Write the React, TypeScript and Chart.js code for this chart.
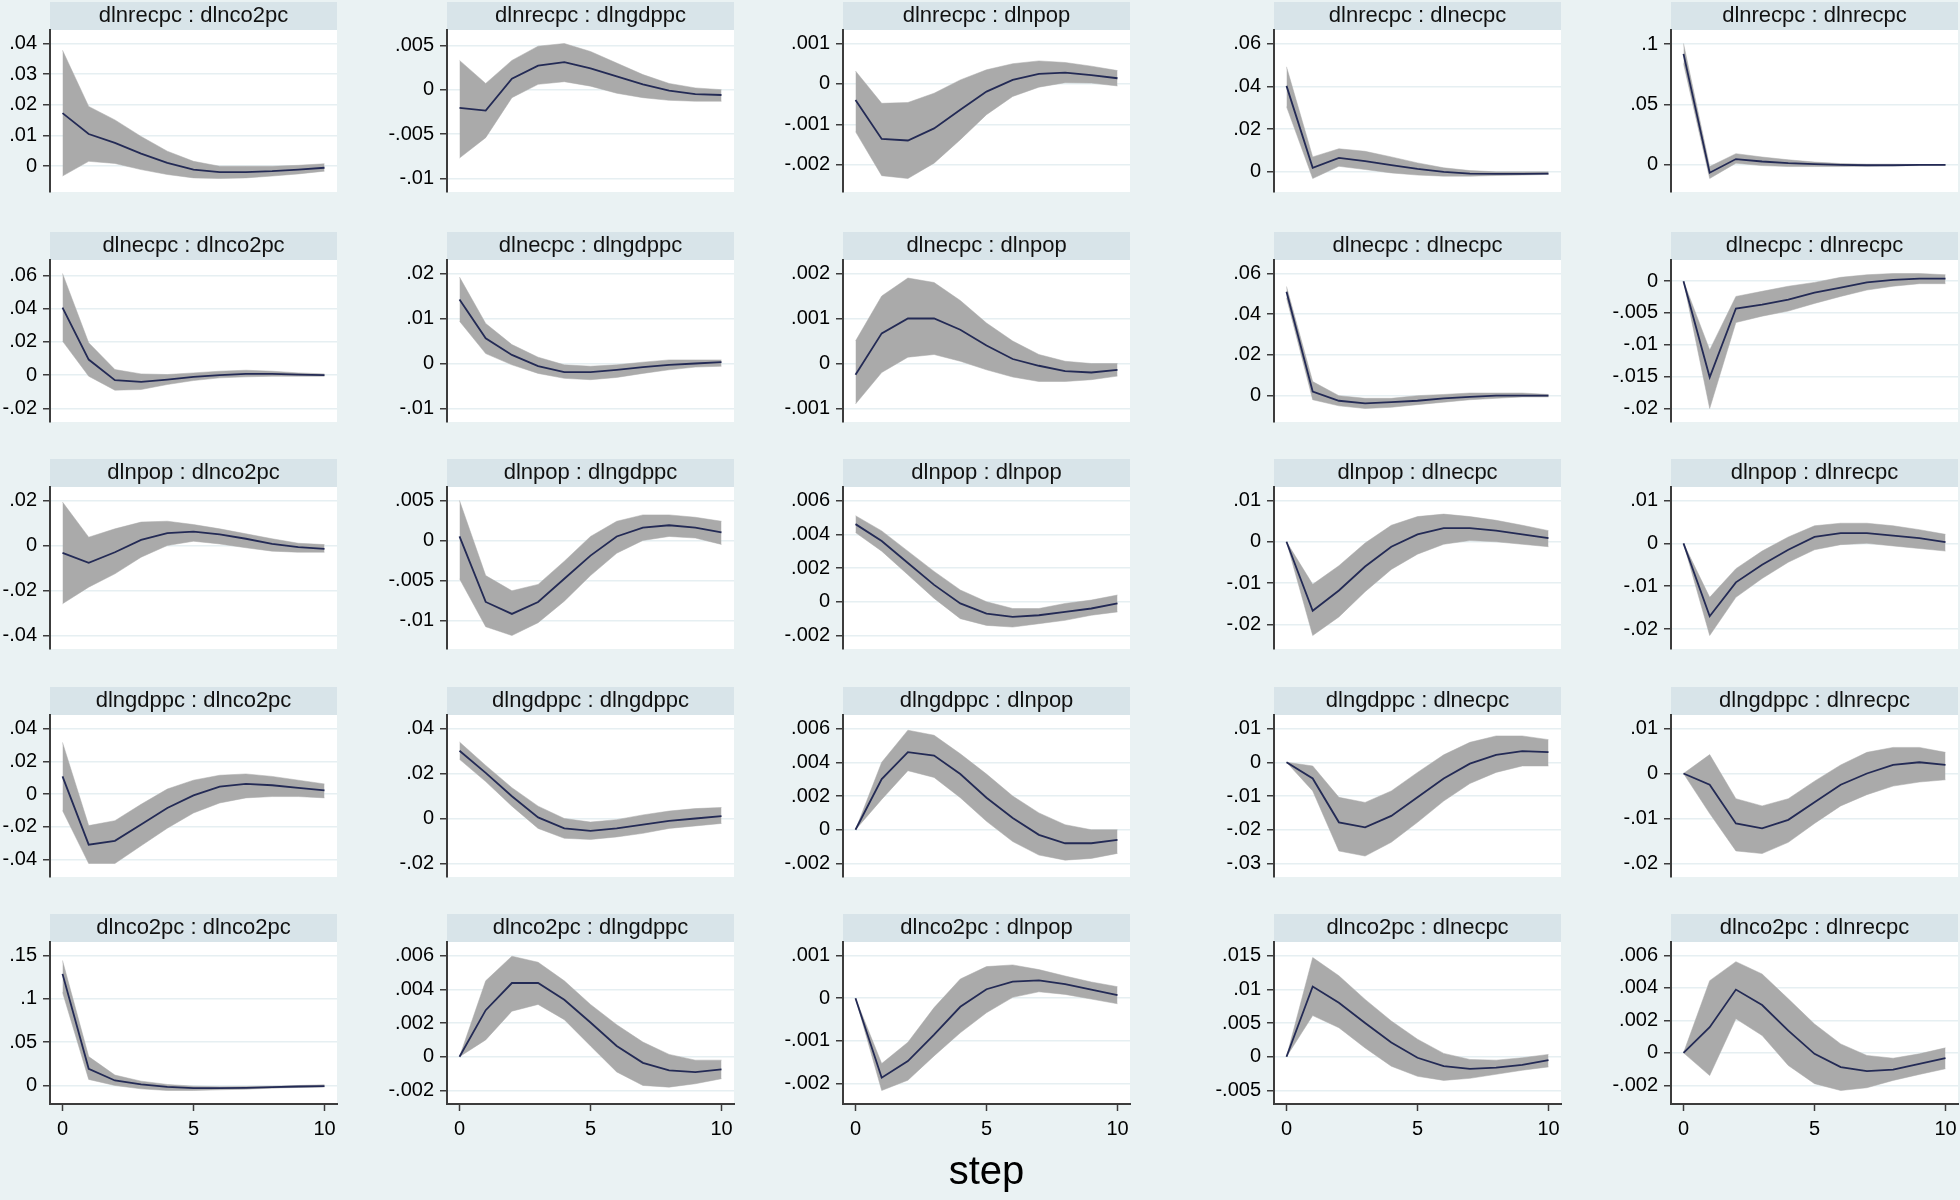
import React, { useEffect, useRef } from "react";
import { Chart, registerables } from "chart.js";

Chart.register(...registerables);

// ---------------- data ----------------
const steps = [0, 1, 2, 3, 4, 5, 6, 7, 8, 9, 10];
const xTickValues = [0, 5, 10];
const xAxisTitle = "step";
const impulses = ["dlnrecpc", "dlnecpc", "dlnpop", "dlngdppc", "dlnco2pc"];
const responses = ["dlnco2pc", "dlngdppc", "dlnpop", "dlnecpc", "dlnrecpc"];

// row 1: impulse dlnrecpc
const rec_co2_irf = [0.0173, 0.0105, 0.0076, 0.0041, 0.0011, -0.0011, -0.0019, -0.0019, -0.0016, -0.0011, -0.0005];
const rec_co2_hi = [0.0378, 0.0195, 0.0151, 0.0097, 0.0049, 0.0016, 0, 0, 0, 0.0003, 0.0008];
const rec_co2_lo = [-0.0032, 0.0016, 0.0009, -0.0011, -0.0027, -0.0038, -0.004, -0.0038, -0.0032, -0.0025, -0.0016];
const rec_co2_ticks = [".04", ".03", ".02", ".01", "0"];

const rec_gdp_irf = [-0.00205, -0.00235, 0.00123, 0.0027, 0.0031, 0.0024, 0.0015, 0.0006, -0.0001, -0.0005, -0.0006];
const rec_gdp_hi = [0.0033, 0.0007, 0.0033, 0.0049, 0.0052, 0.0043, 0.003, 0.0017, 0.0007, 0.0002, 0];
const rec_gdp_lo = [-0.0077, -0.0054, -0.0009, 0.0006, 0.0009, 0.0004, -0.0004, -0.0009, -0.0012, -0.0013, -0.0013];
const rec_gdp_ticks = [".005", "0", "-.005", "-.01"];

const rec_pop_irf = [-0.0004, -0.00136, -0.0014, -0.0011, -0.00064, -0.00019, 0.0001, 0.00025, 0.00028, 0.00022, 0.00014];
const rec_pop_hi = [0.00032, -0.00048, -0.00046, -0.00023, 0.0001, 0.00035, 0.0005, 0.00057, 0.00053, 0.00044, 0.00033];
const rec_pop_lo = [-0.00118, -0.00227, -0.00234, -0.00196, -0.00138, -0.00076, -0.00031, -0.00008, 0.00003, 0.00002, -0.00005];
const rec_pop_ticks = [".001", "0", "-.001", "-.002"];

const rec_ec_irf = [0.0402, 0.0019, 0.0065, 0.005, 0.0031, 0.0014, 0, -0.0008, -0.0009, -0.0009, -0.0008];
const rec_ec_hi = [0.0491, 0.007, 0.0108, 0.0096, 0.007, 0.0042, 0.0019, 0.0006, 0, 0, 0];
const rec_ec_lo = [0.0305, -0.0031, 0.0026, 0.0011, -0.0005, -0.0015, -0.002, -0.002, -0.0017, -0.0015, -0.0012];
const rec_ec_ticks = [".06", ".04", ".02", "0"];

const rec_rec_irf = [0.092, -0.0065, 0.0048, 0.0028, 0.0014, 0.0006, 0, -0.0003, -0.0003, 0, 0];
const rec_rec_hi = [0.1006, -0.0014, 0.0093, 0.0065, 0.0042, 0.0023, 0.0011, 0.0006, 0.0006, 0.0003, 0.0003];
const rec_rec_lo = [0.084, -0.0113, 0.0014, -0.0006, -0.0014, -0.0014, -0.0014, -0.0011, -0.0008, -0.0006, -0.0003];
const rec_rec_ticks = [".1", ".05", "0"];

// row 2: impulse dlnecpc
const ec_co2_irf = [0.0406, 0.0094, -0.003, -0.004, -0.0026, -0.001, 0, 0.0008, 0.0008, 0.0004, 0];
const ec_co2_hi = [0.0611, 0.0195, 0.0034, 0.0008, 0.0004, 0.0014, 0.0024, 0.003, 0.0024, 0.0014, 0.0008];
const ec_co2_lo = [0.0205, -0.0006, -0.009, -0.0086, -0.0056, -0.0032, -0.0016, -0.001, -0.0006, -0.0006, -0.0006];
const ec_co2_ticks = [".06", ".04", ".02", "0", "-.02"];

const ec_gdp_irf = [0.0142, 0.0056, 0.0019, -0.0006, -0.0019, -0.0019, -0.0014, -0.0008, -0.0003, 0, 0.0003];
const ec_gdp_hi = [0.0192, 0.0089, 0.0042, 0.0014, -0.0003, -0.0006, -0.0003, 0.0003, 0.0008, 0.0008, 0.0008];
const ec_gdp_lo = [0.0094, 0.0022, -0.0003, -0.0022, -0.0033, -0.0036, -0.0031, -0.0022, -0.0014, -0.0008, -0.0006];
const ec_gdp_ticks = [".02", ".01", "0", "-.01"];

const ec_pop_irf = [-0.00025, 0.00067, 0.001, 0.001, 0.00075, 0.0004, 0.0001, -0.00005, -0.00017, -0.0002, -0.00014];
const ec_pop_hi = [0.0005, 0.0015, 0.0019, 0.0018, 0.0014, 0.0009, 0.0005, 0.0002, 0.00005, 0, 0];
const ec_pop_lo = [-0.0009, -0.0002, 0.00014, 0.0002, 0.00005, -0.00014, -0.0003, -0.0004, -0.0004, -0.00036, -0.00028];
const ec_pop_ticks = [".002", ".001", "0", "-.001"];

const ec_ec_irf = [0.051, 0.002, -0.0025, -0.0038, -0.0032, -0.0025, -0.0013, -0.0006, 0, 0, 0];
const ec_ec_hi = [0.0536, 0.0069, 0, -0.0013, -0.0013, 0, 0.0006, 0.0013, 0.0013, 0.0013, 0.0006];
const ec_ec_lo = [0.048, -0.002, -0.005, -0.0063, -0.0057, -0.0044, -0.0032, -0.002, -0.0013, -0.0006, -0.0006];
const ec_ec_ticks = [".06", ".04", ".02", "0"];

const ec_rec_irf = [0, -0.0151, -0.0043, -0.0037, -0.0029, -0.0018, -0.001, -0.0002, 0.0002, 0.0004, 0.0004];
const ec_rec_hi = [0, -0.0108, -0.0024, -0.0016, -0.0008, -0.0002, 0.0006, 0.001, 0.0012, 0.0012, 0.001];
const ec_rec_lo = [0, -0.02, -0.0065, -0.0055, -0.0047, -0.0035, -0.0024, -0.0014, -0.0008, -0.0004, -0.0004];
const ec_rec_ticks = ["0", "-.005", "-.01", "-.015", "-.02"];

// row 3: impulse dlnpop
const pop_co2_irf = [-0.0033, -0.0077, -0.003, 0.0025, 0.0055, 0.0062, 0.0049, 0.003, 0.0007, -0.0007, -0.0015];
const pop_co2_hi = [0.0193, 0.0037, 0.0074, 0.0104, 0.0108, 0.0093, 0.0074, 0.0052, 0.003, 0.001, 0.0004];
const pop_co2_lo = [-0.0259, -0.0185, -0.0126, -0.0052, 0, 0.0019, 0.0007, -0.001, -0.0025, -0.003, -0.003];
const pop_co2_ticks = [".02", "0", "-.02", "-.04"];

const pop_gdp_irf = [0.0005, -0.0077, -0.0092, -0.0077, -0.0048, -0.0019, 0.0005, 0.0016, 0.0019, 0.0016, 0.001];
const pop_gdp_hi = [0.005, -0.0044, -0.0063, -0.0055, -0.0026, 0.0005, 0.0024, 0.0032, 0.0032, 0.0029, 0.0024];
const pop_gdp_lo = [-0.0048, -0.0108, -0.0119, -0.0103, -0.0076, -0.0044, -0.0016, 0, 0.0005, 0.0003, -0.0005];
const pop_gdp_ticks = [".005", "0", "-.005", "-.01"];

const pop_pop_irf = [0.0046, 0.0036, 0.0023, 0.001, -0.0001, -0.0007, -0.0009, -0.0008, -0.0006, -0.0004, -0.0001];
const pop_pop_hi = [0.0051, 0.0042, 0.003, 0.0018, 0.0007, 0, -0.0004, -0.0004, -0.0001, 0.0001, 0.0004];
const pop_pop_lo = [0.0041, 0.003, 0.0016, 0.0002, -0.001, -0.0014, -0.0015, -0.0013, -0.0011, -0.0008, -0.0006];
const pop_pop_ticks = [".006", ".004", ".002", "0", "-.002"];

const pop_ec_irf = [0, -0.0167, -0.0118, -0.006, -0.0012, 0.0018, 0.0033, 0.0033, 0.0027, 0.0018, 0.0009];
const pop_ec_hi = [0, -0.0103, -0.0058, -0.0003, 0.004, 0.0061, 0.0067, 0.0061, 0.0052, 0.004, 0.0027];
const pop_ec_lo = [0, -0.0227, -0.0182, -0.0121, -0.0067, -0.003, -0.0006, 0.0003, 0, -0.0006, -0.0012];
const pop_ec_ticks = [".01", "0", "-.01", "-.02"];

const pop_rec_irf = [0, -0.017, -0.0091, -0.005, -0.0015, 0.0015, 0.0024, 0.0024, 0.0018, 0.0012, 0.0003];
const pop_rec_hi = [0, -0.0126, -0.0059, -0.0018, 0.0015, 0.0041, 0.0047, 0.0047, 0.0041, 0.0032, 0.0021];
const pop_rec_lo = [0, -0.0215, -0.0126, -0.0082, -0.0044, -0.0015, -0.0003, 0, -0.0006, -0.0012, -0.0018];
const pop_rec_ticks = [".01", "0", "-.01", "-.02"];

// row 4: impulse dlngdppc
const gdp_co2_irf = [0.0108, -0.0308, -0.0285, -0.0185, -0.0085, -0.0008, 0.0046, 0.0062, 0.0054, 0.0038, 0.0023];
const gdp_co2_hi = [0.0315, -0.0192, -0.0162, -0.0062, 0.0031, 0.0085, 0.0115, 0.0123, 0.0108, 0.0085, 0.0062];
const gdp_co2_lo = [-0.01, -0.0423, -0.0423, -0.0315, -0.0208, -0.0115, -0.0054, -0.0023, -0.0015, -0.0015, -0.0023];
const gdp_co2_ticks = [".04", ".02", "0", "-.02", "-.04"];

const gdp_gdp_irf = [0.0301, 0.0203, 0.0099, 0.0005, -0.0044, -0.0055, -0.0044, -0.0027, -0.0011, 0, 0.0011];
const gdp_gdp_hi = [0.034, 0.0236, 0.0137, 0.0055, 0, -0.0016, -0.0005, 0.0016, 0.0033, 0.0044, 0.0049];
const gdp_gdp_lo = [0.0263, 0.0164, 0.0055, -0.0044, -0.0088, -0.0093, -0.0082, -0.0066, -0.0044, -0.0033, -0.0022];
const gdp_gdp_ticks = [".04", ".02", "0", "-.02"];

const gdp_pop_irf = [0, 0.003, 0.0046, 0.0044, 0.0033, 0.0019, 0.0007, -0.0003, -0.0008, -0.0008, -0.0006];
const gdp_pop_hi = [0, 0.004, 0.0059, 0.0056, 0.0045, 0.0033, 0.002, 0.001, 0.0003, 0, 0];
const gdp_pop_lo = [0, 0.0018, 0.0035, 0.0031, 0.0019, 0.0005, -0.0007, -0.0015, -0.0018, -0.0017, -0.0014];
const gdp_pop_ticks = [".006", ".004", ".002", "0", "-.002"];

const gdp_ec_irf = [0, -0.0048, -0.0178, -0.0193, -0.0159, -0.0104, -0.0048, -0.0004, 0.0022, 0.0033, 0.003];
const gdp_ec_hi = [0, -0.0011, -0.0104, -0.0119, -0.0085, -0.003, 0.0022, 0.0059, 0.0078, 0.0078, 0.0067];
const gdp_ec_lo = [0, -0.0085, -0.0263, -0.0278, -0.0237, -0.0178, -0.0115, -0.0063, -0.003, -0.0011, -0.0011];
const gdp_ec_ticks = [".01", "0", "-.01", "-.02", "-.03"];

const gdp_rec_irf = [0, -0.0025, -0.0111, -0.0122, -0.0103, -0.0064, -0.0025, 0, 0.0019, 0.0025, 0.0019];
const gdp_rec_hi = [0, 0.0042, -0.0056, -0.0072, -0.0056, -0.0017, 0.0019, 0.0047, 0.0058, 0.0058, 0.0047];
const gdp_rec_lo = [0, -0.0089, -0.0172, -0.0178, -0.0153, -0.0111, -0.0072, -0.0047, -0.0028, -0.0019, -0.0014];
const gdp_rec_ticks = [".01", "0", "-.01", "-.02"];

// row 5: impulse dlnco2pc
const co2_co2_irf = [0.1288, 0.0193, 0.0058, 0.0012, -0.0015, -0.0031, -0.0031, -0.0027, -0.0019, -0.0012, -0.0008];
const co2_co2_hi = [0.1442, 0.0333, 0.012, 0.005, 0.0012, -0.0008, -0.0015, -0.0012, -0.0008, 0, 0.0008];
const co2_co2_lo = [0.1075, 0.007, 0, -0.0039, -0.0058, -0.0058, -0.005, -0.0043, -0.0031, -0.0023, -0.0019];
const co2_co2_ticks = [".15", ".1", ".05", "0"];

const co2_gdp_irf = [0, 0.00276, 0.00437, 0.00437, 0.00338, 0.00203, 0.00064, -0.00036, -0.00081, -0.00091, -0.00075];
const co2_gdp_hi = [0, 0.0045, 0.00596, 0.0056, 0.0045, 0.0031, 0.0019, 0.00087, 0.00014, -0.0002, -0.0002];
const co2_gdp_lo = [0, 0.001, 0.0027, 0.0031, 0.0022, 0.00064, -0.0009, -0.0017, -0.0018, -0.0016, -0.0013];
const co2_gdp_ticks = [".006", ".004", ".002", "0", "-.002"];

const co2_pop_irf = [0, -0.00186, -0.00147, -0.00085, -0.0002, 0.00021, 0.00039, 0.00042, 0.00033, 0.0002, 0.00007];
const co2_pop_hi = [0, -0.00153, -0.00103, -0.00022, 0.00045, 0.00074, 0.00078, 0.00067, 0.00052, 0.00038, 0.00027];
const co2_pop_lo = [0, -0.00216, -0.00192, -0.00135, -0.00081, -0.00034, 0.00002, 0.00015, 0.00009, -0.00002, -0.00013];
const co2_pop_ticks = [".001", "0", "-.001", "-.002"];

const co2_ec_irf = [0, 0.0104, 0.008, 0.005, 0.0021, -0.00015, -0.0014, -0.0018, -0.0016, -0.0012, -0.0005];
const co2_ec_hi = [0, 0.0147, 0.012, 0.0085, 0.0053, 0.0026, 0.0005, -0.0004, -0.0005, -0.00015, 0.00035];
const co2_ec_lo = [0, 0.0061, 0.0043, 0.0013, -0.0014, -0.0029, -0.0035, -0.0032, -0.0026, -0.002, -0.0015];
const co2_ec_ticks = [".015", ".01", ".005", "0", "-.005"];

const co2_rec_irf = [0, 0.00158, 0.0039, 0.00295, 0.00137, -0.00006, -0.00088, -0.00113, -0.00103, -0.00068, -0.00033];
const co2_rec_hi = [0, 0.00445, 0.00562, 0.00486, 0.00333, 0.00178, 0.00055, -0.00016, -0.00033, -0.00006, 0.00031];
const co2_rec_lo = [0, -0.0014, 0.0021, 0.00107, -0.00078, -0.0019, -0.00232, -0.00215, -0.0017, -0.00133, -0.00098];
const co2_rec_ticks = [".006", ".004", ".002", "0", "-.002"];

// grid of panels (row = impulse, col = response)
const panelData = [
  [
    [rec_co2_irf, rec_co2_lo, rec_co2_hi, rec_co2_ticks],
    [rec_gdp_irf, rec_gdp_lo, rec_gdp_hi, rec_gdp_ticks],
    [rec_pop_irf, rec_pop_lo, rec_pop_hi, rec_pop_ticks],
    [rec_ec_irf, rec_ec_lo, rec_ec_hi, rec_ec_ticks],
    [rec_rec_irf, rec_rec_lo, rec_rec_hi, rec_rec_ticks],
  ],
  [
    [ec_co2_irf, ec_co2_lo, ec_co2_hi, ec_co2_ticks],
    [ec_gdp_irf, ec_gdp_lo, ec_gdp_hi, ec_gdp_ticks],
    [ec_pop_irf, ec_pop_lo, ec_pop_hi, ec_pop_ticks],
    [ec_ec_irf, ec_ec_lo, ec_ec_hi, ec_ec_ticks],
    [ec_rec_irf, ec_rec_lo, ec_rec_hi, ec_rec_ticks],
  ],
  [
    [pop_co2_irf, pop_co2_lo, pop_co2_hi, pop_co2_ticks],
    [pop_gdp_irf, pop_gdp_lo, pop_gdp_hi, pop_gdp_ticks],
    [pop_pop_irf, pop_pop_lo, pop_pop_hi, pop_pop_ticks],
    [pop_ec_irf, pop_ec_lo, pop_ec_hi, pop_ec_ticks],
    [pop_rec_irf, pop_rec_lo, pop_rec_hi, pop_rec_ticks],
  ],
  [
    [gdp_co2_irf, gdp_co2_lo, gdp_co2_hi, gdp_co2_ticks],
    [gdp_gdp_irf, gdp_gdp_lo, gdp_gdp_hi, gdp_gdp_ticks],
    [gdp_pop_irf, gdp_pop_lo, gdp_pop_hi, gdp_pop_ticks],
    [gdp_ec_irf, gdp_ec_lo, gdp_ec_hi, gdp_ec_ticks],
    [gdp_rec_irf, gdp_rec_lo, gdp_rec_hi, gdp_rec_ticks],
  ],
  [
    [co2_co2_irf, co2_co2_lo, co2_co2_hi, co2_co2_ticks],
    [co2_gdp_irf, co2_gdp_lo, co2_gdp_hi, co2_gdp_ticks],
    [co2_pop_irf, co2_pop_lo, co2_pop_hi, co2_pop_ticks],
    [co2_ec_irf, co2_ec_lo, co2_ec_hi, co2_ec_ticks],
    [co2_rec_irf, co2_rec_lo, co2_rec_hi, co2_rec_ticks],
  ],
];

// ---------------- layout & style ----------------
const FONT = "'Liberation Sans', Arial, Helvetica, sans-serif";
const BG = "#eaf2f3";
const STRIP = "#d8e4e9";
const GRID = "#e6eff2";
const BAND = "#aaaaaa";
const LINE = "#232a55";
const AXIS = "#3c3c3c";

const COL_LEFT = [50, 447, 843, 1274, 1671];
const ROW_TOP = [2, 232, 459, 687, 914];
const PLOT_W = 287;
const PLOT_H = 162;
const STRIP_H = 28;
const YAXIS_W = 75;
const RIGHT_PAD = 15;
const BOTTOM_PAD = 24;
const XAXIS_H = 96;
const X_MARGIN = 12.5;
const Y_MARGIN = 13.5;

const bgPlugin = {
  id: "panelBg",
  beforeDraw(chart: any) {
    const { ctx, chartArea } = chart;
    ctx.save();
    ctx.fillStyle = STRIP;
    ctx.fillRect(chartArea.left, 0, chartArea.right - chartArea.left, chartArea.top);
    ctx.fillStyle = "#ffffff";
    ctx.fillRect(chartArea.left, chartArea.top, chartArea.right - chartArea.left, chartArea.bottom - chartArea.top);
    ctx.restore();
  },
};

function padRange(lo: number, hi: number, px: number, size: number) {
  const f = px / size;
  const total = (hi - lo) / (1 - 2 * f);
  return [lo - f * total, hi + f * total];
}

function Panel({ row, col }: { row: number; col: number }) {
  const ref = useRef<HTMLCanvasElement | null>(null);
  const isBottom = row === 4;
  const width = YAXIS_W + PLOT_W + RIGHT_PAD;
  const height = STRIP_H + PLOT_H + (isBottom ? XAXIS_H : BOTTOM_PAD);
  const left = COL_LEFT[col] - YAXIS_W;
  const top = ROW_TOP[row];

  useEffect(() => {
    const [irf, lo, hi, tickLabels] = panelData[row][col] as [number[], number[], number[], string[]];
    const tickVals = tickLabels.map((t) => parseFloat(t));
    const yLo = Math.min(...lo, ...irf, ...tickVals);
    const yHi = Math.max(...hi, ...irf, ...tickVals);
    const [yMin, yMax] = padRange(yLo, yHi, Y_MARGIN, PLOT_H);
    const [xMin, xMax] = padRange(steps[0], steps[steps.length - 1], X_MARGIN, PLOT_W);

    const chart = new Chart(ref.current as HTMLCanvasElement, {
      type: "line",
      data: {
        datasets: [
          {
            data: steps.map((s, i) => ({ x: s, y: irf[i] })),
            borderColor: LINE,
            borderWidth: 1.8,
            pointRadius: 0,
            fill: false,
            tension: 0,
          },
          {
            data: steps.map((s, i) => ({ x: s, y: hi[i] })),
            borderColor: BAND,
            borderWidth: 0.5,
            backgroundColor: BAND,
            pointRadius: 0,
            fill: "+1",
            tension: 0,
          },
          {
            data: steps.map((s, i) => ({ x: s, y: lo[i] })),
            borderColor: BAND,
            borderWidth: 0.5,
            pointRadius: 0,
            fill: false,
            tension: 0,
          },
        ],
      } as any,
      options: {
        animation: false,
        responsive: false,
        maintainAspectRatio: false,
        events: [],
        layout: { padding: { left: 0, top: 0, right: RIGHT_PAD, bottom: isBottom ? 0 : BOTTOM_PAD } },
        plugins: {
          legend: { display: false },
          tooltip: { enabled: false },
          title: {
            display: true,
            text: `${impulses[row]} : ${responses[col]}`,
            fullSize: false,
            color: "#111111",
            font: { family: FONT, size: 22, weight: "normal", lineHeight: 1 },
            padding: { top: 3, bottom: 3 },
          },
        },
        scales: {
          x: {
            type: "linear",
            min: xMin,
            max: xMax,
            display: isBottom,
            afterBuildTicks: (s: any) => {
              s.ticks = xTickValues.map((v) => ({ value: v }));
            },
            afterFit: (s: any) => {
              s.height = isBottom ? XAXIS_H : 0;
            },
            grid: { drawOnChartArea: false, drawTicks: true, tickLength: 7, tickColor: AXIS, tickWidth: 1.5 },
            border: { display: true, color: AXIS, width: 2 },
            ticks: {
              color: "#000000",
              font: { family: FONT, size: 20 },
              padding: 6,
              maxRotation: 0,
              autoSkip: false,
              callback: (v: any) => String(v),
            },
            title: {
              display: isBottom && col === 2,
              text: xAxisTitle,
              color: "#000000",
              font: { family: FONT, size: 40, lineHeight: 1.2 },
              padding: { top: 0, bottom: 3 },
            },
          },
          y: {
            type: "linear",
            min: yMin,
            max: yMax,
            afterBuildTicks: (s: any) => {
              s.ticks = [...tickVals].sort((a, b) => a - b).map((v) => ({ value: v }));
            },
            afterFit: (s: any) => {
              s.width = YAXIS_W;
            },
            grid: { color: GRID, lineWidth: 1.5, drawTicks: true, tickLength: 7, tickColor: AXIS, tickWidth: 1.5 },
            border: { display: true, color: AXIS, width: 2 },
            ticks: {
              color: "#000000",
              font: { family: FONT, size: 20 },
              padding: 6,
              autoSkip: false,
              callback: (v: any) => {
                const idx = tickVals.findIndex((t) => Math.abs(t - v) < 1e-9);
                return idx >= 0 ? tickLabels[idx] : "";
              },
            },
          },
        },
      } as any,
      plugins: [bgPlugin],
    });
    return () => chart.destroy();
  }, [row, col]);

  return (
    <canvas
      ref={ref}
      width={width}
      height={height}
      style={{ position: "absolute", left, top, width, height, display: "block" }}
    />
  );
}

export default function App() {
  const cells: React.ReactNode[] = [];
  for (let r = 0; r < 5; r++) {
    for (let c = 0; c < 5; c++) {
      cells.push(<Panel key={`${r}-${c}`} row={r} col={c} />);
    }
  }
  return (
    <div
      style={{
        position: "absolute",
        left: 0,
        top: 0,
        width: 1960,
        height: 1200,
        background: BG,
        overflow: "hidden",
      }}
    >
      {cells}
    </div>
  );
}
